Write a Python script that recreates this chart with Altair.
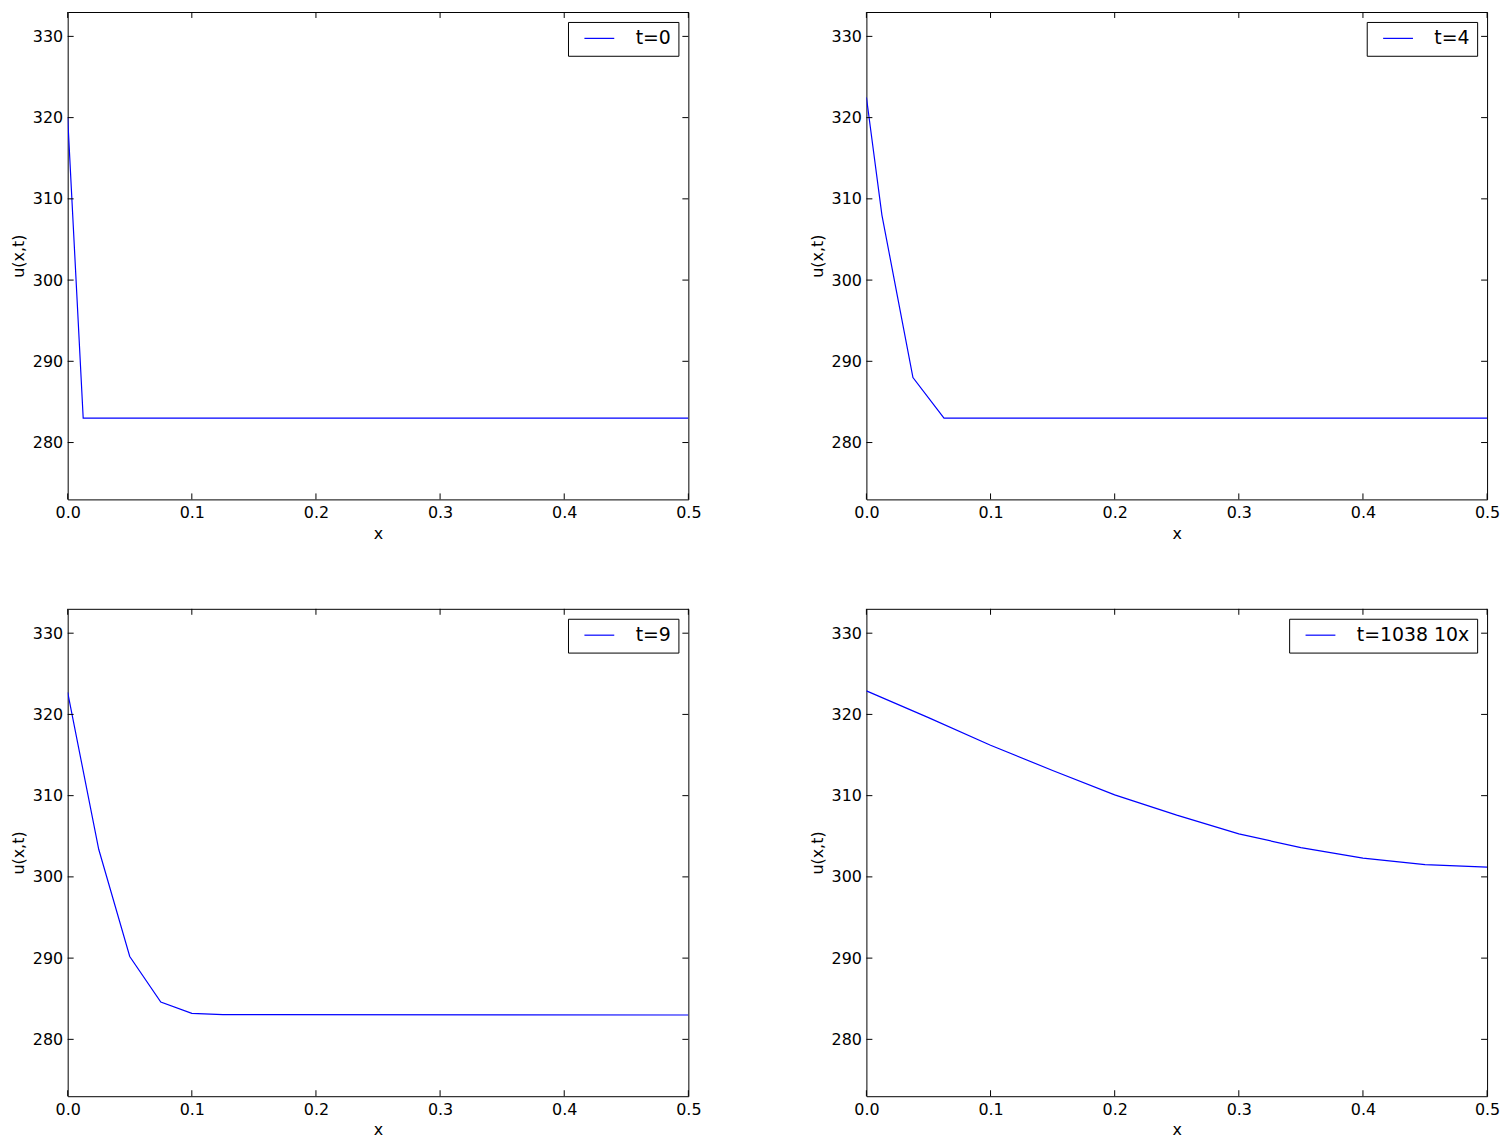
import altair as alt
import pandas as pd

# ---- data ----
y_ticks = [280, 290, 300, 310, 320, 330]
x_ticks = [0.0, 0.1, 0.2, 0.3, 0.4, 0.5]

label_0 = "t=0"
x_0 = [0.0, 0.0125, 0.5]
u_0 = [320.0, 283.0, 283.0]

label_4 = "t=4"
x_4 = [0.0, 0.0125, 0.025, 0.0375, 0.0625, 0.5]
u_4 = [322.5, 308.0, 298.0, 288.0, 283.0, 283.0]

label_9 = "t=9"
x_9 = [0.0, 0.025, 0.05, 0.075, 0.1, 0.125, 0.5]
u_9 = [322.7, 303.4, 290.2, 284.6, 283.2, 283.05, 283.0]

label_1038 = "t=1038 10x"
x_1038 = [0.0, 0.05, 0.1, 0.15, 0.2, 0.25, 0.3, 0.35, 0.4, 0.45, 0.5]
u_1038 = [322.9, 319.6, 316.2, 313.1, 310.1, 307.6, 305.3, 303.6, 302.3, 301.5, 301.2]

W = 624
H = 490
TICK = 6
FONT = "DejaVu Sans"


def panel(xs, us, label):
    df = pd.DataFrame({"x": xs, "u": us, "series": [label] * len(xs)})
    xscale = alt.Scale(domain=[0, 0.5], nice=False, zero=False)
    yscale = alt.Scale(domain=[273, 333], nice=False, zero=False)
    xaxis = alt.Axis(values=x_ticks, format=".1f", title="x",
                     ticks=False, grid=False, domain=False, labelFlush=False,
                     labelPadding=5, titlePadding=5)
    yaxis = alt.Axis(values=y_ticks, format="d", title="u(x,t)",
                     ticks=False, grid=False, domain=False, labelFlush=False,
                     labelPadding=5, titlePadding=6)

    line = alt.Chart(df).mark_line(strokeWidth=1.2, clip=True).encode(
        x=alt.X("x:Q", scale=xscale, axis=xaxis),
        y=alt.Y("u:Q", scale=yscale, axis=yaxis),
        color=alt.Color("series:N",
                        scale=alt.Scale(domain=[label], range=["#0000ff"]),
                        legend=alt.Legend(title=None, orient="top-right")),
    )

    yt = pd.DataFrame({"u": y_ticks})
    xt = pd.DataFrame({"x": x_ticks})

    left = alt.Chart(yt).mark_rule(color="black", strokeWidth=1).encode(
        y=alt.Y("u:Q", scale=yscale, axis=yaxis),
        x=alt.value(0), x2=alt.value(TICK))
    right = alt.Chart(yt).mark_rule(color="black", strokeWidth=1).encode(
        y=alt.Y("u:Q", scale=yscale, axis=yaxis),
        x=alt.value(W), x2=alt.value(W - TICK))
    bottom = alt.Chart(xt).mark_rule(color="black", strokeWidth=1).encode(
        x=alt.X("x:Q", scale=xscale, axis=xaxis),
        y=alt.value(H), y2=alt.value(H - TICK))
    top = alt.Chart(xt).mark_rule(color="black", strokeWidth=1).encode(
        x=alt.X("x:Q", scale=xscale, axis=xaxis),
        y=alt.value(0), y2=alt.value(TICK))

    return alt.layer(line, left, right, bottom, top).properties(width=W, height=H)


row1 = alt.hconcat(panel(x_0, u_0, label_0), panel(x_4, u_4, label_4),
                   spacing=106).resolve_scale(color="independent")
row2 = alt.hconcat(panel(x_9, u_9, label_9), panel(x_1038, u_1038, label_1038),
                   spacing=106).resolve_scale(color="independent")

chart = alt.vconcat(row1, row2, spacing=66).resolve_scale(
    color="independent"
).properties(
    padding={"left": 1, "top": 0, "right": 1, "bottom": 0}
).configure(
    font=FONT,
    background="white",
).configure_view(
    stroke="black", strokeWidth=1, fill="white"
).configure_axis(
    labelFont=FONT, titleFont=FONT,
    labelFontSize=16, titleFontSize=16,
    titleFontWeight="normal",
    labelColor="black", titleColor="black",
).configure_legend(
    labelFont=FONT,
    labelFontSize=19,
    labelColor="black",
    symbolType="M0,0H4",
    symbolSize=225,
    symbolStrokeWidth=1.2,
    labelOffset=42,
    padding=7,
    offset=10,
    strokeColor="black",
    fillColor="white",
    cornerRadius=0,
    labelLimit=400,
)

chart.save("out.html", embed_options={"renderer": "svg", "actions": False})
